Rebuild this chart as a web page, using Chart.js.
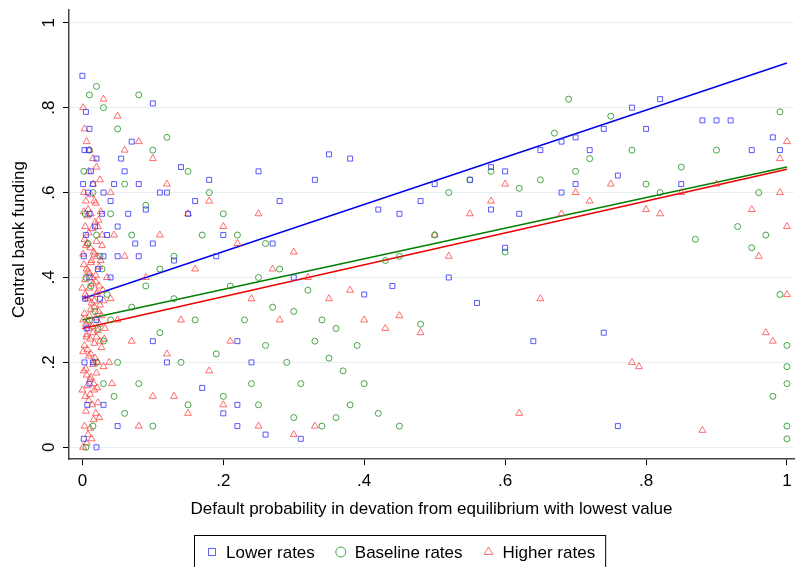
<!DOCTYPE html>
<html><head><meta charset="utf-8">
<script src="https://cdn.jsdelivr.net/npm/chart.js@4"></script>
<style>html,body{margin:0;background:#fff}#w{width:799px;height:567px}</style>
</head><body><div id="w"><canvas id="c"></canvas></div>
<script>
const seriesNames=["Lower rates","Baseline rates","Higher rates"];
const lowerPts=[[0,0.875],[0.005,0.79],[0.01,0.75],[0.003,0.7],[0.02,0.68],[0.015,0.62],[0.03,0.6],[0.01,0.55],[0.04,0.58],[0.05,0.52],[0.06,0.65],[0.08,0.62],[0.1,0.81],[0.07,0.72],[0.09,0.56],[0.12,0.6],[0.15,0.55],[0.18,0.63],[0.2,0.5],[0.25,0.65],[0.28,0.58],[0.3,0.4],[0.35,0.69],[0.33,0.63],[0.38,0.68],[0.42,0.56],[0.45,0.55],[0.48,0.58],[0.5,0.62],[0.52,0.4],[0.55,0.63],[0.58,0.66],[0.6,0.65],[0.62,0.55],[0.65,0.7],[0.68,0.72],[0.7,0.73],[0.72,0.7],[0.74,0.75],[0.76,0.64],[0.78,0.8],[0.8,0.75],[0.82,0.82],[0.85,0.62],[0.88,0.77],[0.9,0.77],[0.92,0.77],[0.95,0.7],[0.98,0.73],[0.99,0.7],[0.74,0.27],[0.76,0.05],[0.64,0.25],[0.56,0.34],[0.44,0.38],[0.4,0.36],[0.31,0.02],[0.26,0.03],[0.22,0.05],[0.2,0.08],[0.22,0.1],[0.17,0.14],[0.12,0.2],[0.1,0.25],[0.22,0.25],[0.05,0.05],[0.03,0.1],[0.01,0.15],[0.015,0.2],[0.02,0.3],[0.025,0.35],[0.01,0.4],[0.03,0.45],[0.04,0.4],[0.05,0.45],[0.08,0.45],[0.1,0.48],[0.13,0.44],[0.005,0.5],[0.008,0.6],[0.012,0.65],[0.002,0.02],[0.02,0.0],[0.6,0.47],[0.68,0.6],[0.7,0.62],[0.58,0.56],[0.002,0.45],[0.004,0.35],[0.006,0.28],[0.003,0.2],[0.007,0.1],[0.001,0.62],[0.009,0.7],[0.018,0.52],[0.022,0.42],[0.028,0.55],[0.035,0.5],[0.045,0.62],[0.055,0.68],[0.065,0.55],[0.075,0.48],[0.11,0.6],[0.14,0.66],[0.16,0.58],[0.19,0.45],[0.24,0.2],[0.27,0.48]];
const basePts=[[0.02,0.85],[0.01,0.83],[0.03,0.8],[0.05,0.75],[0.08,0.83],[0.1,0.7],[0.12,0.73],[0.15,0.65],[0.18,0.6],[0.2,0.55],[0.22,0.5],[0.25,0.4],[0.28,0.42],[0.3,0.32],[0.33,0.25],[0.35,0.21],[0.37,0.18],[0.4,0.15],[0.42,0.08],[0.45,0.05],[0.38,0.1],[0.34,0.05],[0.3,0.07],[0.25,0.1],[0.2,0.12],[0.15,0.1],[0.1,0.05],[0.08,0.15],[0.05,0.2],[0.03,0.25],[0.45,0.45],[0.48,0.29],[0.5,0.5],[0.52,0.6],[0.55,0.63],[0.58,0.65],[0.6,0.46],[0.62,0.61],[0.65,0.63],[0.67,0.74],[0.69,0.82],[0.7,0.65],[0.72,0.68],[0.75,0.78],[0.78,0.7],[0.8,0.62],[0.82,0.6],[0.85,0.66],[0.87,0.49],[0.9,0.7],[0.93,0.52],[0.95,0.47],[0.97,0.5],[0.98,0.12],[0.99,0.79],[1,0.24],[1,0.15],[1,0.05],[1,0.02],[1,0.19],[0.99,0.36],[0.96,0.6],[0.17,0.5],[0.13,0.45],[0.09,0.38],[0.07,0.33],[0.04,0.55],[0.06,0.62],[0.11,0.27],[0.14,0.2],[0.19,0.22],[0.23,0.3],[0.27,0.33],[0.32,0.37],[0.36,0.28],[0.39,0.24],[0.43,0.44],[0.01,0.7],[0.015,0.6],[0.02,0.5],[0.025,0.45],[0.005,0.4],[0.01,0.3],[0.02,0.2],[0.03,0.15],[0.015,0.05],[0.005,0.0],[0.002,0.65],[0.004,0.55],[0.008,0.48],[0.012,0.38],[0.018,0.32],[0.022,0.28],[0.028,0.42],[0.035,0.36],[0.04,0.3],[0.045,0.12],[0.06,0.08],[0.07,0.5],[0.09,0.57],[0.11,0.42],[0.13,0.35],[0.16,0.3],[0.21,0.38],[0.24,0.15],[0.26,0.24],[0.29,0.2],[0.31,0.15],[0.34,0.3],[0.36,0.07],[0.26,0.48]];
const higherPts=[[0.03,0.82],[0.05,0.78],[0.08,0.72],[0.1,0.68],[0.12,0.62],[0.15,0.55],[0.18,0.58],[0.2,0.52],[0.22,0.48],[0.25,0.55],[0.27,0.42],[0.3,0.46],[0.32,0.4],[0.35,0.35],[0.38,0.37],[0.4,0.3],[0.43,0.28],[0.45,0.31],[0.48,0.27],[0.5,0.5],[0.52,0.45],[0.55,0.55],[0.58,0.58],[0.6,0.62],[0.62,0.08],[0.65,0.35],[0.68,0.55],[0.7,0.6],[0.72,0.58],[0.75,0.62],[0.78,0.2],[0.79,0.19],[0.8,0.56],[0.82,0.55],[0.85,0.6],[0.88,0.04],[0.9,0.62],[0.95,0.56],[0.97,0.27],[0.98,0.25],[0.99,0.68],[1,0.72],[1,0.52],[1,0.36],[0.96,0.45],[0.99,0.6],[0.2,0.1],[0.25,0.05],[0.3,0.03],[0.33,0.05],[0.15,0.08],[0.1,0.12],[0.12,0.22],[0.18,0.18],[0.05,0.3],[0.07,0.25],[0.09,0.4],[0.06,0.45],[0.14,0.3],[0.16,0.42],[0.21,0.25],[0.24,0.35],[0.28,0.3],[0.13,0.12],[0.08,0.05],[0.04,0.6],[0.06,0.7],[0.11,0.5],
[0.001,0.8],[0.003,0.75],[0.006,0.72],[0.01,0.7],[0.015,0.68],[0.02,0.66],[0.025,0.63],[0.002,0.6],[0.005,0.58],[0.008,0.56],[0.012,0.55],[0.018,0.53],[0.022,0.52],[0.028,0.5],[0.003,0.49],[0.007,0.48],[0.011,0.47],[0.016,0.46],[0.021,0.45],[0.026,0.44],[0.002,0.43],[0.006,0.42],[0.01,0.41],[0.014,0.4],[0.019,0.39],[0.024,0.38],[0.029,0.37],[0.004,0.36],[0.008,0.35],[0.013,0.34],[0.017,0.33],[0.023,0.32],[0.027,0.31],[0.001,0.3],[0.005,0.29],[0.009,0.28],[0.015,0.27],[0.02,0.26],[0.025,0.25],[0.003,0.24],[0.007,0.23],[0.012,0.22],[0.018,0.21],[0.022,0.2],[0.03,0.19],[0.002,0.18],[0.006,0.17],[0.011,0.16],[0.016,0.15],[0.021,0.14],[0.004,0.12],[0.009,0.11],[0.014,0.1],[0.019,0.08],[0.024,0.07],[0.003,0.05],[0.008,0.03],[0.013,0.02],[0.001,0.0],[0.006,0.01],[0.035,0.4],[0.04,0.35],[0.045,0.5],[0.032,0.28],[0.038,0.2],[0.042,0.15],[0.015,0.62],[0.009,0.65],[0.004,0.52],[0.017,0.58],[0.013,0.44],[0.02,0.36],[0.01,0.31],[0.024,0.29],[0.006,0.26],[0.016,0.2],
[0.012,0.595],[0.019,0.575],[0.007,0.545],[0.023,0.535],[0.014,0.515],[0.009,0.505],[0.02,0.485],[0.005,0.475],[0.017,0.455],[0.012,0.435],[0.024,0.425],[0.008,0.415],[0.019,0.405],[0.004,0.395],[0.015,0.385],[0.01,0.375],[0.021,0.365],[0.006,0.355],[0.017,0.345],[0.012,0.325],[0.025,0.335],[0.003,0.315],[0.019,0.305],[0.008,0.295],[0.014,0.285],[0.022,0.275],[0.006,0.265],[0.011,0.255],[0.017,0.245],[0.027,0.235],[0.009,0.215],[0.015,0.195],[0.005,0.185],[0.02,0.175],[0.012,0.165],[0.007,0.145],[0.017,0.135],[0.011,0.125],[0.022,0.105],[0.005,0.085],[0.016,0.065],[0.011,0.045],[0.026,0.555],[0.028,0.475],[0.03,0.345],[0.031,0.255],[0.002,0.555],[0.001,0.455],[0.0,0.375],[0.001,0.225],[0.0,0.135]];
const fitLower=[0.35,0.905],fitBase=[0.3,0.66],fitHigher=[0.28,0.655];
const xTicks=[0,0.2,0.4,0.6,0.8,1],yTicks=[0,0.2,0.4,0.6,0.8,1];
const fmt=v=>v===0?"0":v===1?"1":String(Math.round(v*10)/10).replace(/^0/,"");
const toXY=a=>a.map(p=>({x:p[0],y:p[1]}));
const FONT='17px "Liberation Sans", Arial, sans-serif';
const line=(f,c)=>({type:'line',data:[{x:0,y:f[0]},{x:1,y:f[1]}],borderColor:c,borderWidth:1.5,pointRadius:0,showLine:true,fill:false});
const styles=[{ps:'rect',c:'rgba(60,60,255,0.85)',r:3.5},{ps:'circle',c:'rgba(40,150,40,0.85)',r:3},{ps:'triangle',c:'rgba(255,60,60,0.75)',r:4}];
const custom={id:'cu',afterDraw(ch){const c=ch.ctx,y=ch.scales.y,x=ch.scales.x;c.save();c.font=FONT;c.fillStyle='#000';
yTicks.forEach(v=>{const py=y.getPixelForValue(v);c.save();c.translate(x.left-20,py);c.rotate(-Math.PI/2);c.textAlign='center';c.textBaseline='middle';c.fillText(fmt(v),0,0);c.restore();});
c.save();c.translate(19,(y.top+y.bottom)/2+5);c.rotate(-Math.PI/2);c.textAlign='center';c.textBaseline='middle';c.fillText('Central bank funding',0,0);c.restore();
const items=seriesNames.map((n,i)=>({n,w:c.measureText(n).width}));
const gap=18,mw=16;let tot=items.reduce((s,it)=>s+mw+6+it.w,0)+gap*(items.length-1)+20;
const lx=Math.round((ch.width-tot)/2),ly=535,lh=32;c.strokeStyle='#000';c.lineWidth=1;c.strokeRect(lx+0.5,ly+0.5,tot,lh);
let cx=lx+12;c.textBaseline='middle';c.textAlign='left';
items.forEach((it,i)=>{const s=styles[i];c.fillStyle='rgba(0,0,0,0)';c.strokeStyle=s.c;Chart.helpers.drawPoint(c,{pointStyle:s.ps,radius:5,borderWidth:1.2},cx+6,ly+lh/2+1);
c.fillStyle='#000';c.fillText(it.n,cx+mw+4,ly+lh/2+2);cx+=mw+6+it.w+gap;});
c.restore();}};
new Chart(document.getElementById('c'),{type:'scatter',
data:{datasets:[
...[lowerPts,basePts,higherPts].map((d,i)=>({label:seriesNames[i],data:toXY(d),pointStyle:styles[i].ps,borderColor:styles[i].c,backgroundColor:'transparent',pointRadius:styles[i].r,borderWidth:1})),
line(fitLower,'#0000ee'),line(fitBase,'#008000'),line(fitHigher,'#ee0000')]},
options:{animation:false,responsive:true,maintainAspectRatio:false,
layout:{padding:{left:29,right:0,top:10,bottom:43}},
plugins:{tooltip:{enabled:false},legend:{display:false}},
scales:{x:{type:'linear',min:-0.019,max:1.01,afterBuildTicks:a=>{a.ticks=xTicks.map(v=>({value:v}))},
ticks:{callback:fmt,color:'#000',maxRotation:0,padding:6,font:{family:'Liberation Sans',size:17}},grid:{drawOnChartArea:false,drawTicks:true,tickColor:'#000',tickLength:6},border:{color:'#444',width:1.5},
title:{display:true,text:'Default probability in devation from equilibrium with lowest value',color:'#000',padding:{top:2},font:{family:'Liberation Sans',size:17}}},
y:{type:'linear',min:-0.028,max:1.03,afterBuildTicks:a=>{a.ticks=yTicks.map(v=>({value:v}))},afterFit:s=>{s.width=40},
ticks:{callback:()=>'',color:'#000',padding:0},
grid:{color:'#e8efef',drawTicks:true,tickColor:'#000',tickLength:6},border:{color:'#444',width:1.5},
title:{display:false}}}},
plugins:[custom]});
</script></body></html>
